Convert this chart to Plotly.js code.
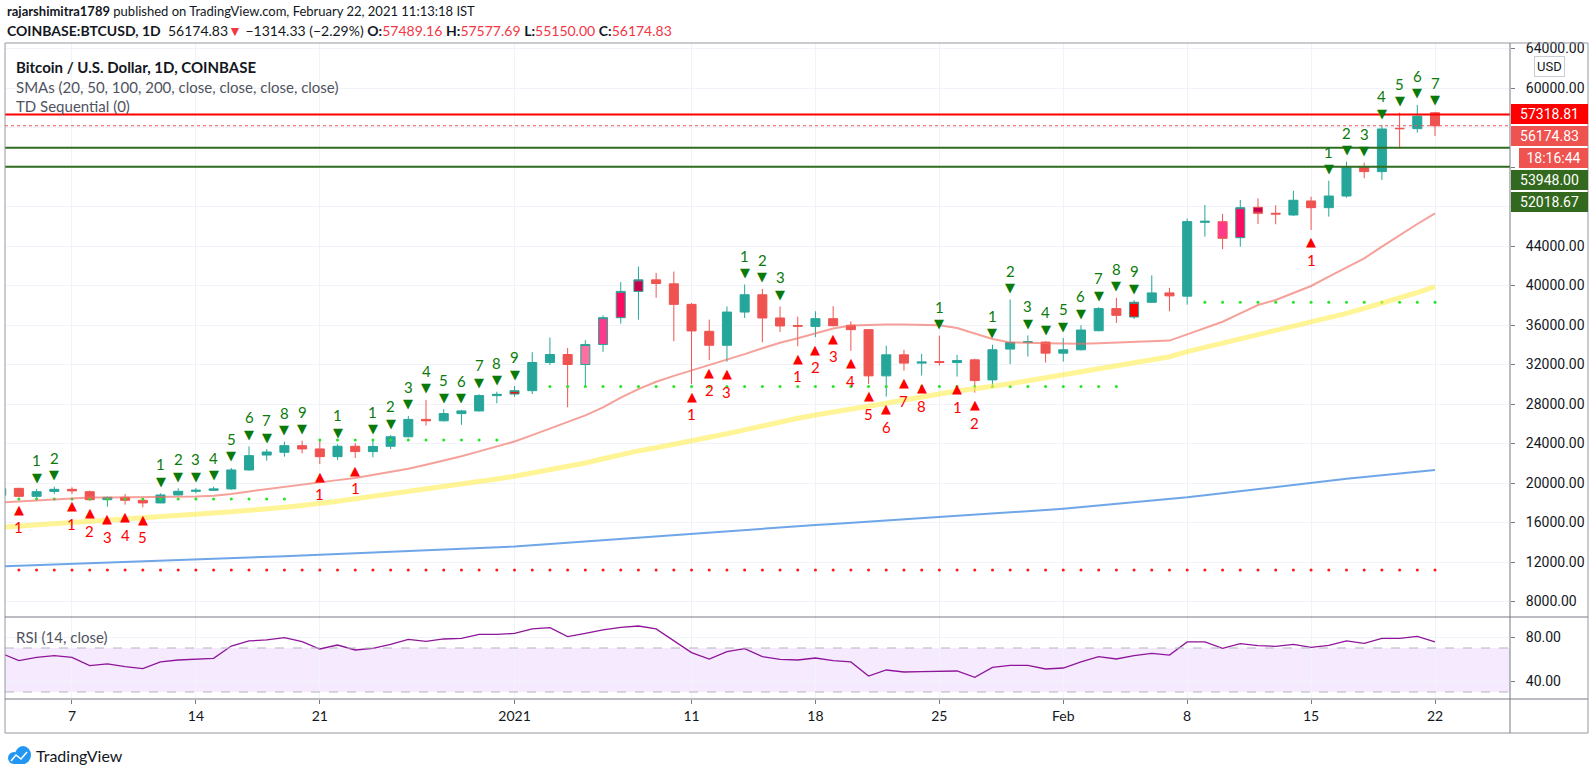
<!DOCTYPE html>
<html><head><meta charset="utf-8">
<script src="https://cdn.plot.ly/plotly-3.0.1.min.js"></script>
<style>html,body{margin:0;padding:0;background:#fff;}#chart{width:1595px;height:770px;}</style>
</head><body><div id="chart"></div>
<script>
// ---------- data ----------
const dates = [
'2020-12-03','2020-12-04','2020-12-05','2020-12-06','2020-12-07','2020-12-08','2020-12-09','2020-12-10','2020-12-11','2020-12-12',
'2020-12-13','2020-12-14','2020-12-15','2020-12-16','2020-12-17','2020-12-18','2020-12-19','2020-12-20','2020-12-21','2020-12-22',
'2020-12-23','2020-12-24','2020-12-25','2020-12-26','2020-12-27','2020-12-28','2020-12-29','2020-12-30','2020-12-31',
'2021-01-01','2021-01-02','2021-01-03','2021-01-04','2021-01-05','2021-01-06','2021-01-07','2021-01-08','2021-01-09','2021-01-10',
'2021-01-11','2021-01-12','2021-01-13','2021-01-14','2021-01-15','2021-01-16','2021-01-17','2021-01-18','2021-01-19','2021-01-20',
'2021-01-21','2021-01-22','2021-01-23','2021-01-24','2021-01-25','2021-01-26','2021-01-27','2021-01-28','2021-01-29','2021-01-30','2021-01-31',
'2021-02-01','2021-02-02','2021-02-03','2021-02-04','2021-02-05','2021-02-06','2021-02-07','2021-02-08','2021-02-09','2021-02-10',
'2021-02-11','2021-02-12','2021-02-13','2021-02-14','2021-02-15','2021-02-16','2021-02-17','2021-02-18','2021-02-19','2021-02-20',
'2021-02-21','2021-02-22'];

const openP = [
18770,19460,18650,19150,19360,19120,18310,18550,18250,17980,18790,19160,19260,19400,21320,22830,23110,23780,23450,22670,23720,23180,23720,24680,26440,26300,27030,27300,28850,
29010,29350,32200,33010,32000,34020,36740,39400,40570,40170,38090,35360,33950,37310,39060,36710,35950,35860,36640,35970,35530,30850,32980,32140,32300,32200,32470,30440,33560,34240,34270,
33150,33490,35420,37660,36810,38300,39250,38920,46400,46460,44840,47920,47310,47140,48560,47880,49060,51970,51530,55920,55880,57489.16];
const highP = [
19570,19500,19390,19630,19560,19230,18620,18890,18380,18950,19460,19490,19630,21520,23710,23440,24190,24290,24290,23920,24050,24290,24850,26790,28410,27470,27400,28980,29250,
29820,33250,34720,33680,34460,36980,40340,41920,41280,41410,38220,36540,37880,40100,39660,37880,36850,37390,37900,36370,35550,33900,33490,33080,34920,32980,32580,34000,38580,34950,34340,
34680,35970,37800,38750,38510,41020,39760,46780,48150,47240,48660,48830,48120,49600,49000,50610,52540,52440,56250,57500,58280,57577.69];
const lowP = [
18580,18550,18380,18890,18890,18210,17600,17810,17540,17960,18750,18960,19220,19320,21250,22260,22670,23000,21920,22330,22530,22600,23440,24620,25820,26220,25890,27240,28070,
28740,29010,31940,27670,29750,33280,36140,36540,38760,34360,30020,32440,32270,36710,34250,35300,33840,34780,35860,33390,30030,28750,31390,30880,31900,30780,29150,29830,32030,32810,32200,
32300,33420,35360,36200,36610,38240,37390,38070,44950,43670,43930,46230,46200,47040,45620,46970,48890,50860,50680,53890,55480,55150];
const closeP = [
19420,18650,19120,19360,19200,18310,18550,18250,17980,18790,19160,19260,19400,21320,22770,23140,23780,23450,22670,23720,23180,23700,24680,26440,26300,27030,27300,28850,28980,
29350,32200,33010,32000,34020,36740,39400,40570,40200,38090,35400,33950,37310,39060,36710,35900,35880,36640,35930,35530,30850,32980,32140,32250,32200,32400,30370,33490,34240,34300,33150,
33490,35490,37660,36980,38300,39250,38950,46470,46500,44780,47880,47310,47240,48630,47880,49060,51970,51530,55850,55880,57150,56174.83];

// TD Sequential bar highlight (0 normal, 1..4 setup shades, 9 perfected nine)
const tdTone = [
0,0,0,0,0,0,0,0,0,0,0,0,0,0,0,0,0,0,0,0,0,0,0,0,0,0,0,0,0,
9,0,0,0,1,2,3,4,0,0,0,0,0,0,0,0,0,0,0,0,0,0,0,0,0,0,0,0,0,0,0,
0,0,0,0,9,0,0,0,0,2,3,4,0,0,0,0,0,0,0,0,0,0];
// TD sell-setup counts (green, above bars) and buy-setup counts (red, below bars)
const sellCount = [
0,0,1,2,0,0,0,0,0,1,2,3,4,5,6,7,8,9,0,1,0,1,2,3,4,5,6,7,8,
9,0,0,0,0,0,0,0,0,0,0,0,0,1,2,3,0,0,0,0,0,0,0,0,1,0,0,1,2,3,4,
5,6,7,8,9,0,0,0,0,0,0,0,0,0,0,1,2,3,4,5,6,7];
const buyCount = [
0,1,0,0,1,2,3,4,5,0,0,0,0,0,0,0,0,0,1,0,1,0,0,0,0,0,0,0,0,
0,0,0,0,0,0,0,0,0,0,1,2,3,0,0,0,1,2,3,4,5,6,7,8,0,1,2,0,0,0,0,
0,0,0,0,0,0,0,0,0,0,0,0,0,0,1,0,0,0,0,0,0,0];
// TDST levels (dotted)
const tdstGreen = [
null,18380,18380,18380,18380,18380,18380,18380,18380,18380,18380,18380,18380,18380,18380,18380,18380,null,
24350,24350,24350,24350,24350,24350,24350,24350,24350,24350,24350,
null,null,29760,29760,29760,29760,29760,29760,29760,29760,29760,29760,29760,29760,29760,29760,29760,29760,29760,29760,29760,29760,29760,29760,29760,29760,29760,29760,29760,29760,29760,
29760,29760,29760,29760,null,null,null,null,38300,38300,38300,38300,38300,38300,38300,38300,38300,38300,38300,38300,38300,38300];
const tdstRed = [
null,11200,11200,11200,11200,11200,11200,11200,11200,11200,11200,11200,11200,11200,11200,11200,11200,11200,11200,11200,11200,11200,11200,11200,11200,11200,11200,11200,11200,
11200,11200,11200,11200,11200,11200,11200,11200,11200,11200,11200,11200,11200,11200,11200,11200,11200,11200,11200,11200,11200,11200,11200,11200,11200,11200,11200,11200,11200,11200,11200,
11200,11200,11200,11200,11200,11200,11200,11200,11200,11200,11200,11200,11200,11200,11200,11200,11200,11200,11200,11200,11200,11200];

const sma20 = [
18040,18150,18260,18370,18480,18520,18540,18550,18560,18580,18600,18620,18720,18890,19150,19390,19620,19850,20070,20290,20510,20800,21100,21450,21850,22250,22700,23200,23700,
24200,24850,25500,26150,26850,27650,28650,29500,30250,30850,31400,31900,32450,33050,33650,34200,34650,35150,35650,35950,36030,36050,36050,36030,35970,35700,35120,34580,34240,34170,34150,
34130,34100,34150,34220,34280,34330,34420,35050,35660,36330,37180,38020,38530,39200,39950,40890,41840,42750,43930,45110,46230,47310];
const sma50 = [
15510,15640,15760,15890,16020,16150,16290,16420,16530,16640,16750,16860,16970,17080,17200,17370,17540,17720,17900,18150,18400,18650,18870,19080,19300,19550,19800,20100,20400,
20680,21000,21330,21680,22020,22450,22880,23250,23570,23900,24210,24600,24990,25380,25800,26220,26550,26880,27160,27440,27730,28070,28410,28750,29080,29310,29540,29760,30060,30350,30650,
30950,31230,31510,31800,32130,32460,32790,33300,33720,34150,34570,34990,35410,35830,36250,36680,37180,37690,38190,38700,39290,39880];
const sma200 = [
11560,11620,11680,11740,11800,11860,11920,11990,12050,12120,12180,12250,12310,12380,12450,12520,12590,12660,12730,12800,12870,12950,13020,13090,13160,13230,13300,13380,13460,
13560,13690,13820,13960,14090,14230,14360,14500,14630,14770,14900,15020,15150,15270,15400,15520,15630,15750,15860,15970,16090,16200,16320,16430,16540,16660,16780,16900,17020,17140,17260,
17390,17550,17710,17870,18030,18200,18370,18550,18760,18970,19180,19400,19620,19840,20060,20240,20420,20600,20780,20960,21140,21310];
const rsi = [
65.2,58.5,61.5,63.0,61.5,53.9,55.5,53.0,51.2,57.3,59.1,59.7,60.6,71.8,76.4,77.3,79.4,75.8,69.1,72.7,68.2,69.7,73.3,77.9,76.1,78.2,78.8,82.4,82.4,
83.3,87.3,88.5,80.3,83.3,86.4,88.8,90.0,87.3,76.7,65.8,60.0,66.7,69.4,62.1,59.7,59.1,60.9,58.5,57.3,44.5,50.0,48.2,48.5,48.5,49.1,43.3,52.4,54.2,54.2,50.9,
51.8,57.3,62.1,60.0,63.0,65.2,63.6,75.5,75.5,69.7,73.9,72.1,71.5,73.3,70.6,72.4,76.4,74.2,78.8,78.8,80.6,75.5];

const priceTicks = [8000,12000,16000,20000,24000,28000,32000,36000,40000,44000,48000,52000,56000,60000,64000];
const priceTickText = ['8000.00','12000.00','16000.00','20000.00','24000.00','28000.00','32000.00','36000.00','40000.00','44000.00','','','','60000.00','64000.00'];
const rsiTicks = [40,80];
const rsiTickText = ['40.00','80.00'];
const rsiBands = [30,70];
const dateTicks = ['2020-12-07','2020-12-14','2020-12-21','2021-01-01','2021-01-11','2021-01-18','2021-01-25','2021-02-01','2021-02-08','2021-02-15','2021-02-22'];
const dateTickText = ['7','14','21','2021','11','18','25','Feb','8','15','22'];
const resistanceLevel = 57318.81;
const supportLevels = [53948.00, 52018.67];
const lastPrice = 56174.83;
const countdown = '18:16:44';

// ---------- drawing ----------
const W = 1595, H = 770;
const px = x => x / W;
const py = y => 1 - y / H;
const FONT = 'Lato, "Open Sans", sans-serif';
const UP = '#26a69a', DN = '#ef5350';
const GREEN = '#0a7a0a', RED = '#ff0000';

function subset(pred) {
  const o = {x:[], open:[], high:[], low:[], close:[]};
  dates.forEach((d,i) => { if (pred(i)) { o.x.push(d); o.open.push(openP[i]); o.high.push(highP[i]); o.low.push(lowP[i]); o.close.push(closeP[i]); } });
  return o;
}
function candle(pred, fill) {
  const s = subset(pred);
  return Object.assign({type:'candlestick', xaxis:'x', yaxis:'y', whiskerwidth:0, hoverinfo:'skip',
    increasing:{line:{color:UP, width:1}, fillcolor: fill || UP},
    decreasing:{line:{color:DN, width:1}, fillcolor: fill || DN}}, s);
}
const toneFill = {1:'#ff6fa1', 2:'#ff3a8a', 3:'#ff0a62', 4:'#c8004c', 9:'#ff0000'};

const traces = [
  {type:'scatter', mode:'markers', x:dates, y:tdstRed, xaxis:'x', yaxis:'y', marker:{size:3, color:'#ff1a1a'}, hoverinfo:'skip'},
  {type:'scatter', mode:'markers', x:dates, y:tdstGreen, xaxis:'x', yaxis:'y', marker:{size:3, color:'#22e622'}, hoverinfo:'skip'},
  {type:'scatter', mode:'lines', x:dates, y:sma200, xaxis:'x', yaxis:'y', line:{color:'rgba(74,144,226,0.8)', width:2}, hoverinfo:'skip'},
  {type:'scatter', mode:'lines', x:dates, y:sma50, xaxis:'x', yaxis:'y', line:{color:'rgba(255,236,80,0.6)', width:5}, hoverinfo:'skip'},
  {type:'scatter', mode:'lines', x:dates, y:sma20, xaxis:'x', yaxis:'y', line:{color:'rgba(240,110,100,0.65)', width:2}, hoverinfo:'skip'},
  candle(i => tdTone[i] === 0)
];
[1,2,3,4,9].forEach(t => traces.push(candle(i => tdTone[i] === t, toneFill[t])));
traces.push({type:'scatter', mode:'lines', x:dates, y:rsi, xaxis:'x', yaxis:'y2', line:{color:'#8e1599', width:1.3}, hoverinfo:'skip'});

const shapes = [
  {type:'rect', xref:'paper', yref:'y2', x0:px(5), x1:px(1510), y0:rsiBands[0], y1:rsiBands[1], fillcolor:'rgba(153,21,255,0.09)', line:{width:0}, layer:'below'},
  {type:'line', xref:'paper', yref:'y2', x0:px(5), x1:px(1510), y0:rsiBands[0], y1:rsiBands[0], line:{color:'#b2b5be', width:1, dash:'dash'}},
  {type:'line', xref:'paper', yref:'y2', x0:px(5), x1:px(1510), y0:rsiBands[1], y1:rsiBands[1], line:{color:'#b2b5be', width:1, dash:'dash'}},
  {type:'line', xref:'paper', yref:'y', x0:px(5), x1:px(1510), y0:lastPrice, y1:lastPrice, line:{color:'#ef5350', width:1, dash:'dot'}},
  {type:'line', xref:'paper', yref:'y', x0:px(5), x1:px(1510), y0:resistanceLevel, y1:resistanceLevel, line:{color:'#ff0000', width:2}},
  {type:'line', xref:'paper', yref:'y', x0:px(5), x1:px(1510), y0:supportLevels[0], y1:supportLevels[0], line:{color:'#2f6d1f', width:2}},
  {type:'line', xref:'paper', yref:'y', x0:px(5), x1:px(1510), y0:supportLevels[1], y1:supportLevels[1], line:{color:'#2f6d1f', width:2}},
  {type:'rect', xref:'paper', yref:'paper', x0:px(5), x1:px(1588), y0:py(733), y1:py(43), line:{color:'#9598a1', width:1}, fillcolor:'rgba(0,0,0,0)'},
  {type:'line', xref:'paper', yref:'paper', x0:px(5), x1:px(1588), y0:py(617), y1:py(617), line:{color:'#787b86', width:1}},
  {type:'line', xref:'paper', yref:'paper', x0:px(5), x1:px(1588), y0:py(699), y1:py(699), line:{color:'#787b86', width:1}},
  {type:'line', xref:'paper', yref:'paper', x0:px(1510), x1:px(1510), y0:py(733), y1:py(43), line:{color:'#787b86', width:1}},
  {type:'circle', xref:'paper', yref:'paper', x0:px(8), x1:px(20), y0:py(764), y1:py(752), fillcolor:'#2196f3', line:{width:0}},
  {type:'circle', xref:'paper', yref:'paper', x0:px(15), x1:px(31), y0:py(764), y1:py(746), fillcolor:'#2196f3', line:{width:0}},
  {type:'rect', xref:'paper', yref:'paper', x0:px(14), x1:px(25), y0:py(764), y1:py(756), fillcolor:'#2196f3', line:{width:0}},
  {type:'path', xref:'paper', yref:'paper', path:`M ${px(11)} ${py(761)} L ${px(16)} ${py(755)} L ${px(21)} ${py(759)} L ${px(27)} ${py(752)}`, line:{color:'#ffffff', width:1.6}}
];

const annotations = [];
const RC = '#f23645';
annotations.push({xref:'paper', yref:'paper', x:px(5), y:py(11), xanchor:'left', yanchor:'middle', showarrow:false,
  text:'<b>rajarshimitra1789</b> published on TradingView.com, February 22, 2021 11:13:18 IST', font:{size:13, color:'#131722', family:FONT}});
annotations.push({xref:'paper', yref:'paper', x:px(5), y:py(30), xanchor:'left', yanchor:'middle', showarrow:false,
  text:`<b>COINBASE:BTCUSD, 1D</b>  ${closeP[closeP.length-1].toFixed(2)}<span style="color:${RC}">▼</span> −1314.33 (−2.29%) <b>O:</b><span style="color:${RC}">${openP[openP.length-1].toFixed(2)}</span> <b>H:</b><span style="color:${RC}">${highP[highP.length-1].toFixed(2)}</span> <b>L:</b><span style="color:${RC}">${lowP[lowP.length-1].toFixed(2)}</span> <b>C:</b><span style="color:${RC}">${closeP[closeP.length-1].toFixed(2)}</span>`,
  font:{size:14, color:'#131722', family:FONT}});
annotations.push({xref:'paper', yref:'paper', x:px(14), y:py(67), xanchor:'left', yanchor:'middle', showarrow:false,
  text:'<b>Bitcoin / U.S. Dollar, 1D, COINBASE</b>', font:{size:15, color:'#131722', family:FONT}});
annotations.push({xref:'paper', yref:'paper', x:px(14), y:py(87), xanchor:'left', yanchor:'middle', showarrow:false,
  text:'SMAs (20, 50, 100, 200, close, close, close, close)', font:{size:15, color:'#50535e', family:FONT}});
annotations.push({xref:'paper', yref:'paper', x:px(14), y:py(106), xanchor:'left', yanchor:'middle', showarrow:false,
  text:'TD Sequential (0)', font:{size:15, color:'#50535e', family:FONT}});
annotations.push({xref:'paper', yref:'paper', x:px(14), y:py(637), xanchor:'left', yanchor:'middle', showarrow:false,
  text:'RSI (14, close)', font:{size:15, color:'#50535e', family:FONT}});
annotations.push({xref:'paper', yref:'paper', x:px(34), y:py(755), xanchor:'left', yanchor:'middle', showarrow:false,
  text:'TradingView', font:{size:16, color:'#131722', family:FONT}});
annotations.push({xref:'paper', yref:'paper', x:px(1549), y:py(66), xanchor:'center', yanchor:'middle', showarrow:false,
  text:'USD', font:{size:13, color:'#131722', family:'Roboto, sans-serif'}, bgcolor:'#ffffff', bordercolor:'#c9ccd3', borderwidth:1, borderpad:2});

function axisLabel(val, shift, txt, bg, x0, w) {
  annotations.push({xref:'paper', yref:'y', x:px(x0), y:val, yshift:shift, xanchor:'left', yanchor:'middle', showarrow:false,
    text:txt, font:{size:14, color:'#ffffff', family:'Roboto, sans-serif'}, bgcolor:bg, borderwidth:0, borderpad:2, width:w, height:16, align:'center'});
}
axisLabel(resistanceLevel, 0, resistanceLevel.toFixed(2), '#ff0000', 1511, 73);
axisLabel(lastPrice, -10, lastPrice.toFixed(2), '#ef5350', 1511, 73);
axisLabel(lastPrice, -32, countdown, '#ef5350', 1519, 65);
axisLabel(supportLevels[0], -32, supportLevels[0].toFixed(2), '#33691e', 1511, 73);
axisLabel(supportLevels[1], -35, supportLevels[1].toFixed(2), '#33691e', 1511, 73);

dates.forEach((d, i) => {
  if (sellCount[i] > 0) {
    annotations.push({x:d, y:highP[i], xref:'x', yref:'y', showarrow:false, yshift:12, text:'▼', font:{size:13, color:GREEN, family:'DejaVu Sans'}});
    annotations.push({x:d, y:highP[i], xref:'x', yref:'y', showarrow:false, yshift:29, text:String(sellCount[i]), font:{size:15, color:GREEN, family:FONT}});
  }
  if (buyCount[i] > 0) {
    annotations.push({x:d, y:lowP[i], xref:'x', yref:'y', showarrow:false, yshift:-12, text:'▲', font:{size:13, color:RED, family:'DejaVu Sans'}});
    annotations.push({x:d, y:lowP[i], xref:'x', yref:'y', showarrow:false, yshift:-30, text:String(buyCount[i]), font:{size:15, color:RED, family:FONT}});
  }
});

const layout = {
  width:W, height:H, margin:{l:0, r:0, t:0, b:0}, paper_bgcolor:'#ffffff', plot_bgcolor:'rgba(0,0,0,0)',
  showlegend:false, hovermode:false, boxgap:0.27, font:{family:FONT, color:'#131722'},
  xaxis:{type:'date', domain:[px(5), px(1510)], anchor:'y2', range:['2020-12-03 05:10','2021-02-26 05:41'],
    tickmode:'array', tickvals:dateTicks, ticktext:dateTickText, ticks:'outside', ticklen:4, tickcolor:'#787b86',
    showgrid:true, gridcolor:'#f0f3fa', showline:false, zeroline:false, tickfont:{size:14, color:'#131722', family:FONT},
    rangeslider:{visible:false}, fixedrange:true},
  yaxis:{domain:[py(617), py(43)], range:[6430, 64557], side:'right', anchor:'x', tickmode:'array', tickvals:priceTicks, ticktext:priceTickText,
    ticks:'outside', ticklen:4, tickcolor:'#787b86', ticklabelstandoff:8, showgrid:true, gridcolor:'#f0f3fa', showline:false,
    zeroline:false, tickfont:{size:14, color:'#131722', family:'Roboto, sans-serif'}, fixedrange:true},
  yaxis2:{domain:[py(699), py(617)], range:[23.64, 98.18], side:'right', anchor:'x', tickmode:'array', tickvals:rsiTicks, ticktext:rsiTickText,
    ticks:'outside', ticklen:4, tickcolor:'#787b86', ticklabelstandoff:8, showgrid:true, gridcolor:'#f0f3fa', showline:false,
    zeroline:false, tickfont:{size:14, color:'#131722', family:'Roboto, sans-serif'}, fixedrange:true},
  shapes:shapes, annotations:annotations
};

Plotly.newPlot('chart', traces, layout, {displayModeBar:false, staticPlot:true});
</script>
</body></html>
